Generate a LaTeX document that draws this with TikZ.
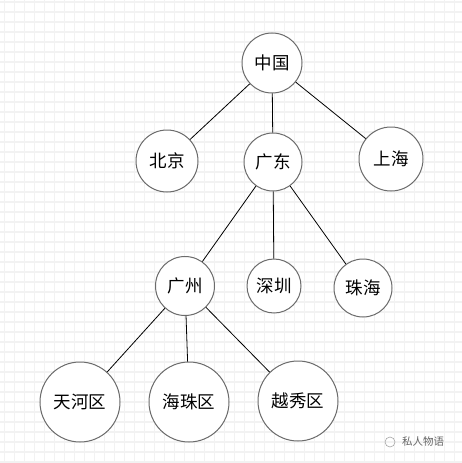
\documentclass[tikz,border=0pt]{standalone}
\usepackage{fontspec}
\newfontfamily\cjk{Noto Sans CJK SC}
\begin{document}
\begin{tikzpicture}[x=1pt,y=-1pt,
  city/.style={circle,draw=black!58,line width=1pt,fill=white,inner sep=0pt,
    font=\cjk\fontsize{17.5}{18}\selectfont,text=black},
  link/.style={draw=black,line width=0.8pt},
  gridline/.style={draw=black!5,line width=1.3pt}]
\fill[white] (0,0) rectangle (462,463);
\useasboundingbox (0,0) rectangle (462,463);
\foreach \i in {0,...,46} {
  \draw[gridline] (4.5+10*\i,0) -- (4.5+10*\i,463);
  \draw[gridline] (0,2+10*\i) -- (462,2+10*\i);
}
% nodes
\node[city,minimum size=60pt] (zg) at (272,63) {中国};
\node[city,minimum size=62pt] (bj) at (167,161) {北京};
\node[city,minimum size=58pt] (gd) at (273,162) {广东};
\node[city,minimum size=64pt] (sh) at (391,159) {上海};
\node[city,minimum size=59pt] (gz) at (185,286) {广州};
\node[city,minimum size=54pt] (sz) at (274,286) {深圳};
\node[city,minimum size=58pt] (zh) at (363,288) {珠海};
\node[city,minimum size=80pt] (th) at (80,402) {天河区};
\node[city,minimum size=80pt] (hz) at (189,402) {海珠区};
\node[city,minimum size=80pt] (yx) at (298,401) {越秀区};
% links
\draw[link] (zg) -- (bj);
\draw[link] (zg) -- (gd);
\draw[link] (zg) -- (sh);
\draw[link] (gd) -- (gz);
\draw[link] (gd) -- (sz);
\draw[link] (gd) -- (zh);
\draw[link] (gz) -- (th);
\draw[link] (gz) -- (hz);
\draw[link] (gz) -- (yx);
% watermark
\node[draw=black!35,circle,inner sep=0pt,minimum size=10pt,line width=0.6pt] (wmicon) at (390,442) {};
\node[anchor=west,inner sep=0pt,text=black!60,font=\cjk\fontsize{10.5}{11}\selectfont] (wmtext) at (402,442) {私人物语};
\end{tikzpicture}
\end{document}
